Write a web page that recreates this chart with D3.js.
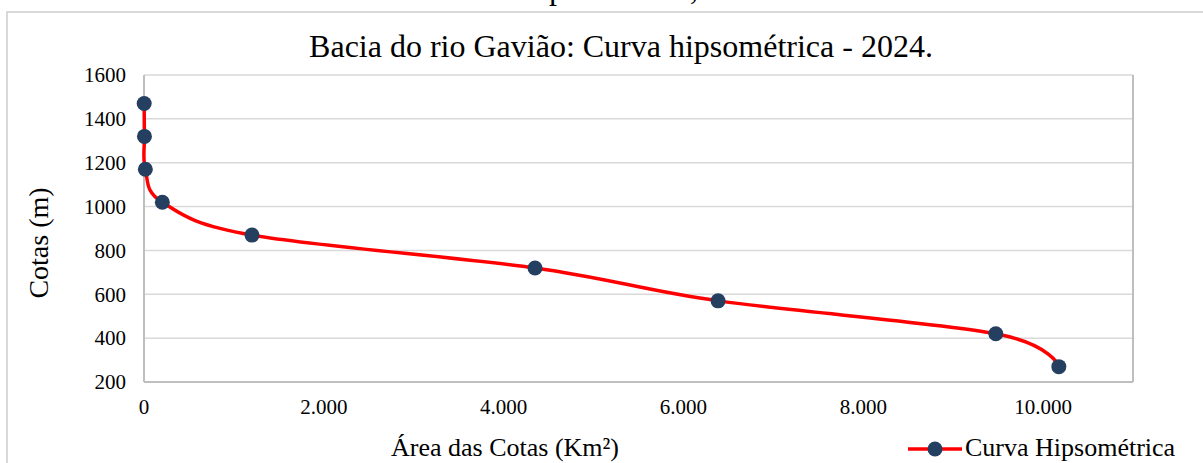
<!DOCTYPE html>
<html><head><meta charset="utf-8">
<script src="https://cdn.jsdelivr.net/npm/d3@7"></script>
<style>body{margin:0;background:#fff}svg{display:block}text{font-family:"Liberation Serif","Times New Roman",serif;fill:#000}</style>
</head><body>
<svg id="c" width="1203" height="463"></svg>
<script>
const areas = [2, 5, 15, 204, 1201, 4349, 6385, 9474, 10175];
const cotas = [1470, 1320, 1170, 1020, 870, 720, 570, 420, 270];
const yTicks = [200, 400, 600, 800, 1000, 1200, 1400, 1600];
const xTicks = [0, 2000, 4000, 6000, 8000, 10000];
const title = "Bacia do rio Gavião: Curva hipsométrica - 2024.";
const seriesName = "Curva Hipsométrica";
const caption = "Curva hipsométrica, 2024";

const svg = d3.select("#c");
const L = 144, R = 1133, T = 75, B = 382;
const x = d3.scaleLinear().domain([0, 11000]).range([L, R]);
const y = d3.scaleLinear().domain([200, 1600]).range([B, T]);
const fmt = v => d3.format(",")(v).replace(/,/g, ".");

// clipped caption fragment at the top (only descenders visible)
const cap = svg.append("text").attr("x", 0).attr("y", 0).style("font-size", "24px").text(caption);
{
  const n = cap.node();
  const ip = caption.indexOf("p"), ic = caption.indexOf(",");
  const d0 = n.getStartPositionOfChar(ic).x - n.getStartPositionOfChar(ip).x;
  const fs = 24 * (690 - 549) / d0;
  cap.style("font-size", fs + "px");
  const px = n.getStartPositionOfChar(ip).x;
  cap.attr("x", 549 - px).attr("y", -1);
}

// outer frame
svg.append("rect").attr("x", 7).attr("y", 12).attr("width", 1300).attr("height", 600)
  .attr("fill", "none").attr("stroke", "#d9d9d9").attr("stroke-width", 2);

// title
svg.append("text").attr("x", 621).attr("y", 57).attr("text-anchor", "middle")
  .style("font-size", "32px").text(title);

// gridlines
svg.append("g").selectAll("line").data(yTicks).join("line")
  .attr("x1", L).attr("x2", R).attr("y1", d => y(d)).attr("y2", d => y(d))
  .attr("stroke", "#d9d9d9").attr("stroke-width", 1.5);

// frame lines
const g = svg.append("g").attr("stroke", "#bfbfbf").attr("stroke-width", 2);
g.append("line").attr("x1", L).attr("x2", L).attr("y1", T).attr("y2", B);
g.append("line").attr("x1", L).attr("x2", R).attr("y1", B).attr("y2", B);
g.append("line").attr("x1", R).attr("x2", R).attr("y1", T).attr("y2", B);

// y tick labels
svg.append("g").selectAll("text").data(yTicks).join("text")
  .attr("x", 126).attr("y", d => y(d)).attr("dy", "0.35em").attr("text-anchor", "end")
  .style("font-size", "21px").text(d => d);

// x tick labels
svg.append("g").selectAll("text").data(xTicks).join("text")
  .attr("x", d => x(d)).attr("y", 414).attr("text-anchor", "middle")
  .style("font-size", "21px").text(d => fmt(d));

// axis titles
svg.append("text").attr("transform", "translate(38,243) rotate(-90)").attr("dy", "0.35em")
  .attr("text-anchor", "middle").style("font-size", "28px").text("Cotas (m)");
svg.append("text").attr("x", 505).attr("y", 456).attr("text-anchor", "middle")
  .style("font-size", "26px").text("Área das Cotas (Km²)");

// line
const pts = areas.map((a, i) => [a, cotas[i]]);
const line = d3.line().x(d => x(d[0])).y(d => y(d[1])).curve(d3.curveCatmullRom.alpha(0));
svg.append("path").datum(pts).attr("d", line).attr("fill", "none")
  .attr("stroke", "#ff0000").attr("stroke-width", 3.5);
svg.append("g").selectAll("circle").data(pts).join("circle")
  .attr("cx", d => x(d[0])).attr("cy", d => y(d[1])).attr("r", 7.5).attr("fill", "#243f60");

// legend
svg.append("line").attr("x1", 908).attr("x2", 962).attr("y1", 449).attr("y2", 449)
  .attr("stroke", "#ff0000").attr("stroke-width", 3.5);
svg.append("circle").attr("cx", 935).attr("cy", 449).attr("r", 7.5).attr("fill", "#243f60");
svg.append("text").attr("x", 965).attr("y", 456).style("font-size", "26px").text(seriesName);
</script>
</body></html>
